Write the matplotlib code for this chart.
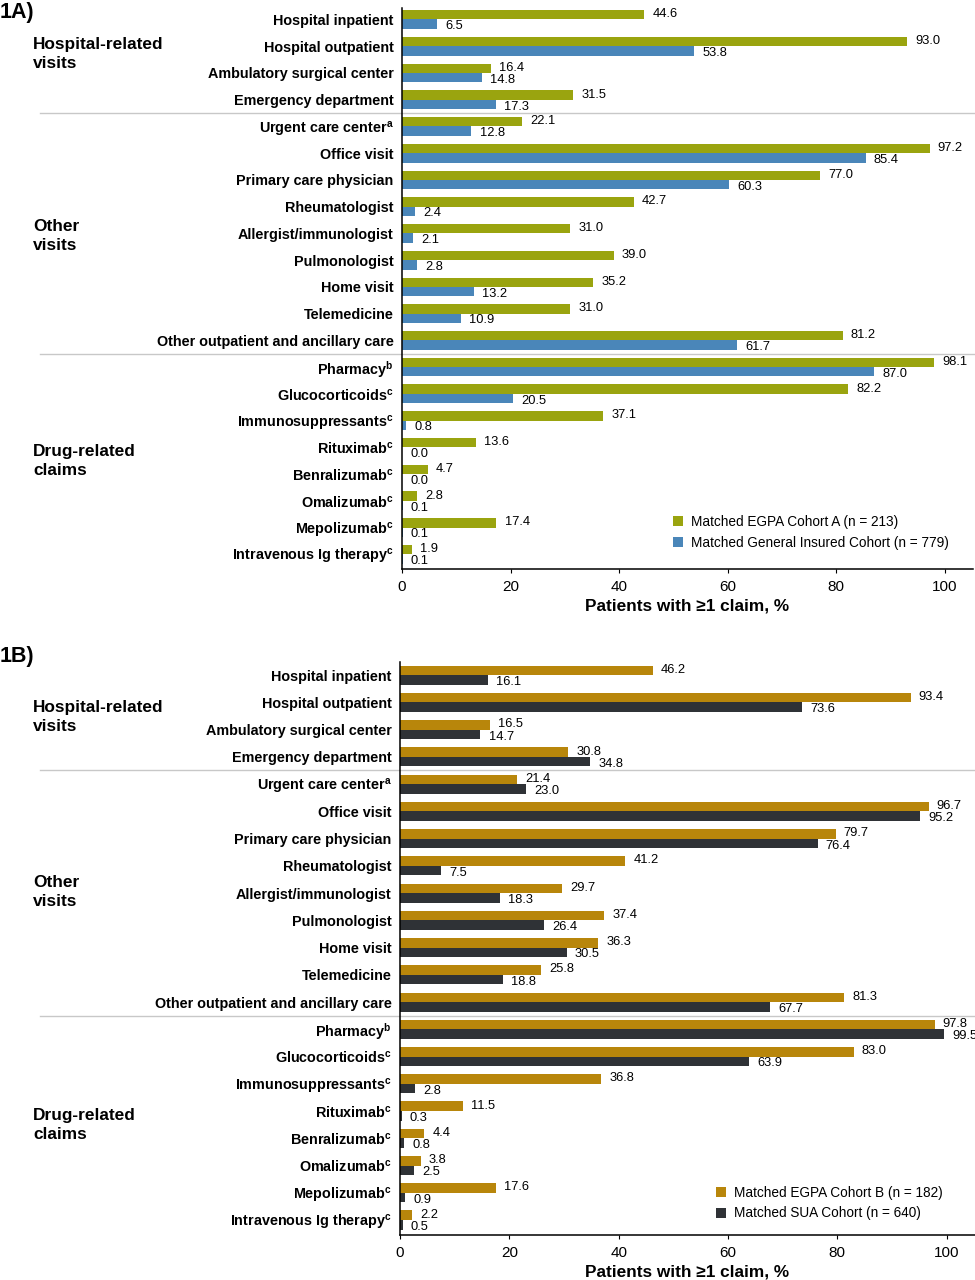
import matplotlib
matplotlib.use("Agg")
import matplotlib.pyplot as plt
from matplotlib.transforms import blended_transform_factory
import numpy as np

plt.rcParams["font.family"] = ["Liberation Sans", "DejaVu Sans"]
plt.rcParams["mathtext.fontset"] = "custom"
plt.rcParams["mathtext.rm"] = "Liberation Sans"
plt.rcParams["mathtext.bf"] = "Liberation Sans:bold"

CATEGORIES = [
    "Hospital inpatient",
    "Hospital outpatient",
    "Ambulatory surgical center",
    "Emergency department",
    r"Urgent care center$^{\mathbf{a}}$",
    "Office visit",
    "Primary care physician",
    "Rheumatologist",
    "Allergist/immunologist",
    "Pulmonologist",
    "Home visit",
    "Telemedicine",
    "Other outpatient and ancillary care",
    r"Pharmacy$^{\mathbf{b}}$",
    r"Glucocorticoids$^{\mathbf{c}}$",
    r"Immunosuppressants$^{\mathbf{c}}$",
    r"Rituximab$^{\mathbf{c}}$",
    r"Benralizumab$^{\mathbf{c}}$",
    r"Omalizumab$^{\mathbf{c}}$",
    r"Mepolizumab$^{\mathbf{c}}$",
    r"Intravenous Ig therapy$^{\mathbf{c}}$",
]
GROUPS = ["Hospital-related\nvisits", "Other\nvisits", "Drug-related\nclaims"]

EGPA_A = [44.6, 93.0, 16.4, 31.5, 22.1, 97.2, 77.0, 42.7, 31.0, 39.0, 35.2,
          31.0, 81.2, 98.1, 82.2, 37.1, 13.6, 4.7, 2.8, 17.4, 1.9]
GENERAL = [6.5, 53.8, 14.8, 17.3, 12.8, 85.4, 60.3, 2.4, 2.1, 2.8, 13.2,
           10.9, 61.7, 87.0, 20.5, 0.8, 0.0, 0.0, 0.1, 0.1, 0.1]
EGPA_B = [46.2, 93.4, 16.5, 30.8, 21.4, 96.7, 79.7, 41.2, 29.7, 37.4, 36.3,
          25.8, 81.3, 97.8, 83.0, 36.8, 11.5, 4.4, 3.8, 17.6, 2.2]
SUA = [16.1, 73.6, 14.7, 34.8, 23.0, 95.2, 76.4, 7.5, 18.3, 26.4, 30.5,
       18.8, 67.7, 99.5, 63.9, 2.8, 0.3, 0.8, 2.5, 0.9, 0.5]

LEGEND_A = ["Matched EGPA Cohort A (n = 213)", "Matched General Insured Cohort (n = 779)"]
LEGEND_B = ["Matched EGPA Cohort B (n = 182)", "Matched SUA Cohort (n = 640)"]
X_LABEL = "Patients with \u22651 claim, %"

BAR_H = 0.35
SEPARATORS = [3.5, 12.5]


def draw_panel(fig, rect, tag, tag_y, first, second, colors, legend_labels,
               group_y, ylim, legend_anchor):
    ax = fig.add_axes(rect)
    y = np.arange(len(CATEGORIES))
    ax.barh(y - BAR_H / 2, first, height=BAR_H, color=colors[0], label=legend_labels[0])
    ax.barh(y + BAR_H / 2, second, height=BAR_H, color=colors[1], label=legend_labels[1])
    for i in range(len(CATEGORIES)):
        ax.text(first[i] + 1.5, y[i] - BAR_H / 2 - 0.02, f"{first[i]:.1f}",
                fontsize=9.3, va="center", ha="left")
        ax.text(second[i] + 1.5, y[i] + BAR_H / 2 + 0.08, f"{second[i]:.1f}",
                fontsize=9.3, va="center", ha="left")

    ax.set_xlim(0, 105.2)
    ax.set_ylim(*ylim)
    ax.set_yticks(y)
    ax.set_yticklabels(CATEGORIES, fontsize=10.4, fontweight="bold")
    ax.tick_params(axis="y", length=0, pad=6)
    ax.set_xticks([0, 20, 40, 60, 80, 100])
    ax.tick_params(axis="x", labelsize=11, length=3, width=0.8, direction="out", pad=5)
    ax.set_xlabel(X_LABEL, fontsize=12.4, fontweight="bold", labelpad=3)
    for side in ("top", "right"):
        ax.spines[side].set_visible(False)
    for side in ("left", "bottom"):
        ax.spines[side].set_linewidth(1.1)

    # group separators and group names live in figure-x / data-y coordinates
    trans = blended_transform_factory(fig.transFigure, ax.transData)
    for sep in SEPARATORS:
        ax.plot([40 / 975, 1.0], [sep, sep], transform=trans, color="#c8c8c8",
                linewidth=1.0, clip_on=False, zorder=0)
    for text, gy in zip(GROUPS, group_y):
        ax.text(33 / 975, gy, text, transform=trans, fontsize=12.4, fontweight="bold",
                va="center", ha="left", linespacing=1.35)
    fig.text(0.0, tag_y, tag, fontsize=15.5, fontweight="bold", va="top", ha="left")

    ax.legend(loc="lower right", bbox_to_anchor=legend_anchor, frameon=False,
              fontsize=9.8, handlelength=0.75, handleheight=0.75, handletextpad=0.6,
              labelspacing=0.5)
    return ax


def main() -> None:
    fig = plt.figure(figsize=(9.75, 12.8), dpi=100)
    H = 1280
    draw_panel(fig, [402 / 975, 1 - 569 / H, 571 / 975, (569 - 8) / H], "1A)", 1 - 2 / H,
               EGPA_A, GENERAL, ["#9aa40f", "#4a86b9"], LEGEND_A,
               [1.28, 8.1, 16.5], (20.55, -0.43), (0.98, 0.012))
    draw_panel(fig, [400 / 975, 1 - 1235 / H, 575 / 975, (1235 - 662) / H], "1B)", 1 - 646 / H,
               EGPA_B, SUA, ["#b8860b", "#2f3236"], LEGEND_B,
               [1.55, 7.95, 16.5], (20.55, -0.48), (0.965, 0.004))
    fig.savefig("out.png", dpi=100)
    plt.close(fig)


if __name__ == "__main__":
    main()
